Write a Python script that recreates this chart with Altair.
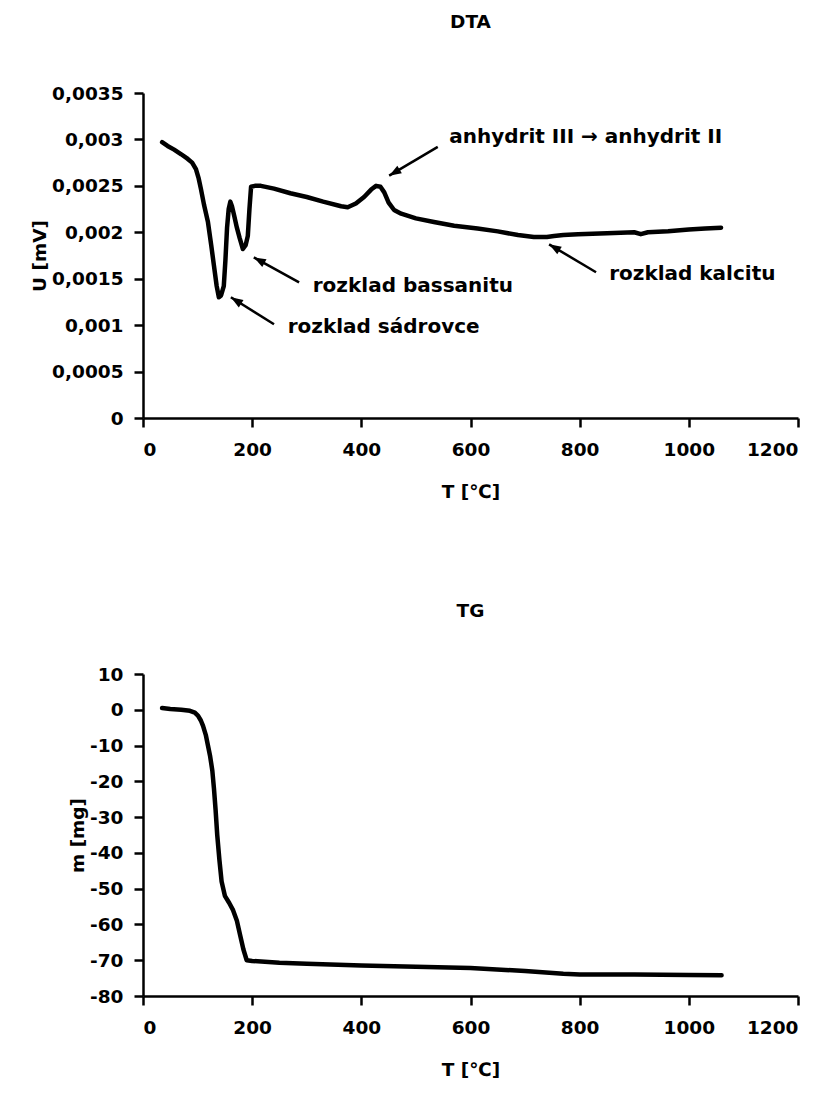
import math
import altair as alt
import pandas as pd

# ---------------- data ----------------
T_DTA = [35, 45, 57, 70, 82, 90, 97, 102, 106, 112, 119, 125, 130, 135, 139, 143,
         148, 151, 154, 157, 160, 163, 167, 172, 177, 183, 188, 192, 195, 198, 205,
         216, 240, 270, 300, 330, 363, 375, 390, 405, 418, 427, 435, 442, 450, 460,
         473, 500, 533, 570, 613, 650, 687, 716, 740, 753, 770, 797, 850, 900, 912,
         925, 962, 1000, 1030, 1059]
U_DTA = [0.00297, 0.00293, 0.00289, 0.00284, 0.00279, 0.00275, 0.00268, 0.00258,
         0.00247, 0.00229, 0.00211, 0.00186, 0.00164, 0.00142, 0.00130, 0.00132,
         0.00142, 0.00170, 0.00205, 0.00225, 0.00233, 0.00228, 0.00218, 0.00205,
         0.00194, 0.00182, 0.00186, 0.00196, 0.00225, 0.00249, 0.00250, 0.00250,
         0.00247, 0.00242, 0.00238, 0.00233, 0.00228, 0.00227, 0.00231, 0.00238,
         0.00246, 0.00250, 0.00249, 0.00243, 0.00232, 0.00224, 0.00220, 0.00215,
         0.00211, 0.00207, 0.00204, 0.00201, 0.00197, 0.00195, 0.00195, 0.00196,
         0.00197, 0.00198, 0.00199, 0.00200, 0.00198, 0.00200, 0.00201, 0.00203,
         0.00204, 0.00205]

T_TG = [35, 50, 70, 86, 95, 101, 106, 110, 115, 119, 123, 127, 130, 133, 136, 140,
        144, 150, 158, 165, 172, 178, 184, 190, 200, 250, 300, 400, 500, 600, 700,
        770, 800, 900, 1000, 1060]
M_TG = [0.5, 0.2, 0.0, -0.3, -0.8, -1.7, -3.0, -4.5, -7.0, -10.0, -13.0, -17.0,
        -22.0, -28.0, -35.0, -42.0, -48.0, -52.0, -54.0, -56.0, -59.0, -63.0,
        -67.0, -70.0, -70.2, -70.7, -71.0, -71.5, -71.8, -72.2, -73.0, -73.8,
        -74.0, -74.0, -74.1, -74.2]

X_TICKS = [0, 200, 400, 600, 800, 1000, 1200]
U_TICKS = [0, 0.0005, 0.001, 0.0015, 0.002, 0.0025, 0.003, 0.0035]
M_TICKS = [-80, -70, -60, -50, -40, -30, -20, -10, 0, 10]

ANN_TEXT = ["rozklad sádrovce", "rozklad bassanitu",
            "anhydrit III \u2192 anhydrit II", "rozklad kalcitu"]
ANN_X = [265, 311, 561, 854]
ANN_Y = [0.00098, 0.00142, 0.00303, 0.00155]
ARR_X0 = [240, 286, 540, 830]
ARR_Y0 = [0.00101, 0.00146, 0.00292, 0.00157]
ARR_X1 = [161, 203, 451, 744]
ARR_Y1 = [0.00130, 0.00173, 0.00261, 0.00187]

# ---------------- layout / style ----------------
W, H1, H2 = 655, 325, 322
FONT = "DejaVu Sans"
FS = 18.5
X_DOM = [0, 1200]
U_DOM = [0, 0.0035]
M_DOM = [-80, 10]

# arrowhead rotation (pixel space of the DTA panel)
px_x = W / (X_DOM[1] - X_DOM[0])
px_y = H1 / (U_DOM[1] - U_DOM[0])
angles = []
for x0, y0, x1, y1 in zip(ARR_X0, ARR_Y0, ARR_X1, ARR_Y1):
    sx = (x1 - x0) * px_x
    sy = -(y1 - y0) * px_y
    angles.append(math.degrees(math.atan2(sx, -sy)) % 360)

dta = pd.DataFrame({"T": T_DTA, "U": U_DTA})
tg = pd.DataFrame({"T": T_TG, "m": M_TG})
ann = pd.DataFrame({"text": ANN_TEXT, "x": ANN_X, "y": ANN_Y})
arr = pd.DataFrame({"x0": ARR_X0, "y0": ARR_Y0, "x1": ARR_X1, "y1": ARR_Y1,
                    "ang": angles})

LBL = "replace(toString(datum.value), '.', ',')"

def x_axis():
    return alt.Axis(values=X_TICKS, title="T [\u2103]", labelExpr="toString(datum.value)",
                    labelPadding=13, titlePadding=24)

xs = alt.Scale(domain=X_DOM, nice=False)
us = alt.Scale(domain=U_DOM, nice=False)
ms = alt.Scale(domain=M_DOM, nice=False)

u_axis = alt.Axis(values=U_TICKS, title="U [mV]", labelExpr=LBL,
                  labelPadding=11, titlePadding=2)

dta_line = alt.Chart(dta).mark_line(color="black", strokeWidth=4.5,
                                    strokeJoin="round", strokeCap="round").encode(
    x=alt.X("T:Q", scale=xs, axis=x_axis()),
    y=alt.Y("U:Q", scale=us, axis=u_axis),
)

arr_line = alt.Chart(arr).mark_rule(color="black", strokeWidth=2.5).encode(
    x="x0:Q", y="y0:Q", x2="x1:Q", y2="y1:Q")

arr_head = alt.Chart(arr).mark_point(
    shape="M0,0L0.8,2.2L-0.8,2.2Z", filled=True, color="black", opacity=1, size=121
).encode(x="x1:Q", y="y1:Q", angle=alt.Angle("ang:Q", scale=None))

ann_text = alt.Chart(ann).mark_text(
    align="left", baseline="middle", font=FONT, fontSize=20, fontWeight="bold",
    color="black"
).encode(x="x:Q", y="y:Q", text="text:N")

top = alt.layer(dta_line, arr_line, arr_head, ann_text).properties(
    width=W, height=H1,
    title=alt.TitleParams("DTA", font=FONT, fontSize=FS, fontWeight="bold",
                          color="black", offset=53, anchor="middle"),
)

tg_line = alt.Chart(tg).mark_line(color="black", strokeWidth=4.5,
                                  strokeJoin="round", strokeCap="round").encode(
    x=alt.X("T:Q", scale=xs, axis=x_axis()),
    y=alt.Y("m:Q", scale=ms,
            axis=alt.Axis(values=M_TICKS, title="m [mg]",
                          labelExpr="toString(datum.value)",
                          labelPadding=11, titlePadding=2)),
)

bottom = tg_line.properties(
    width=W, height=H2,
    title=alt.TitleParams("TG", font=FONT, fontSize=FS, fontWeight="bold",
                          color="black", offset=45, anchor="middle"),
)

chart = alt.vconcat(top, bottom, spacing=256, bounds="flush").properties(
    padding={"left": 22, "top": 4, "right": 10, "bottom": 5}
).configure_view(stroke=None).configure_axis(
    grid=False, domainColor="black", domainWidth=2.5, tickColor="black",
    tickWidth=2.5, tickSize=9, labelFont=FONT, labelFontSize=FS,
    labelFontWeight="bold", labelColor="black", titleFont=FONT,
    titleFontSize=FS, titleFontWeight="bold", titleColor="black",
)

chart.save("out.html", embed_options={"renderer": "svg", "actions": False})
